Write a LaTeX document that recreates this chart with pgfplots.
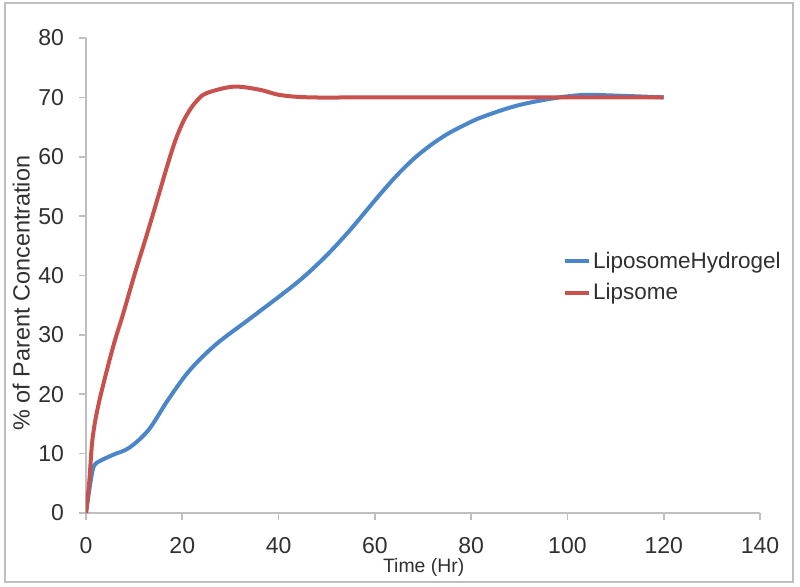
\documentclass[border=0pt]{standalone}
\usepackage{pgfplots}
\pgfplotsset{compat=1.18}
\usepackage{fontspec}
\setmainfont{Liberation Sans}
\definecolor{exblue}{HTML}{4A86C8}
\definecolor{exred}{HTML}{C8504D}
\definecolor{axgray}{HTML}{BFBFBF}
\definecolor{txt}{HTML}{303030}
\begin{document}
\begin{tikzpicture}
\path[use as bounding box] (0,0) rectangle (400pt,293pt);
\draw[axgray, line width=1.2pt] (2.5pt,2pt) rectangle (396.5pt,291.5pt);
\begin{axis}[
  at={(43.0pt,36.5pt)}, anchor=south west,
  scale only axis, width=337pt, height=237.5pt,
  xmin=0, xmax=140, ymin=0, ymax=80,
  xtick={0,20,...,140}, ytick={0,10,...,80},
  axis x line*=bottom, axis y line*=left,
  axis line style={axgray, line width=0.8pt},
  tick style={axgray, line width=0.8pt},
  tick align=outside, major tick length=3.5pt,
  /pgf/number format/assume math mode=true,
  ticklabel style={font=\fontsize{11.5}{13}\selectfont, text=txt},
  xticklabel style={yshift=-5pt},
  yticklabel style={xshift=-4pt},
  xlabel={Time (Hr)},
  ylabel={\% of Parent Concentration},
  xlabel style={at={(axis description cs:0.501,-0.114)}, anchor=center, font=\fontsize{9.7}{11}\selectfont, text=txt},
  ylabel style={at={(axis description cs:-0.096,0.463)}, anchor=center, rotate=0, font=\fontsize{11.7}{13}\selectfont, text=txt},
  legend style={at={(axis description cs:0.7074,0.555)}, anchor=north west, draw=none, fill=none,
    font=\fontsize{11.25}{13}\selectfont, text=txt, row sep=4pt, inner sep=0pt,
    nodes={inner sep=1pt}},
  legend cell align=left,
  legend image code/.code={\draw[#1, line width=2pt] (0pt,0pt) -- (12pt,0pt);},
]
\addplot[exblue, line width=2pt, smooth, tension=0.55] coordinates {
(0,0) (1,5.5) (1.7,8) (3,8.8) (5.6,9.8) (9,11) (13,14) (17,19) (21.5,24)
(27,28.4) (34,32.7) (41,37) (45,39.6) (49,42.6) (52,45.1) (55,47.8) (58,50.7)
(61,53.6) (64.5,56.8) (68,59.6) (71.5,61.9) (75,63.8) (78.5,65.3)
(82,66.6) (89,68.5) (96,69.7) (103,70.4) (110,70.3) (120,70)};
\addlegendentry{LiposomeHydrogel}
\addplot[exred, line width=2pt, smooth, tension=0.55] coordinates {
(0,0) (0.7,5.5) (1.4,12.8) (2.8,19) (5.6,27.9) (7.7,33.5) (10.1,40.2) (12.5,46.5)
(15,53.3) (17,58.8) (18.5,62.6) (20,65.6) (21.5,67.8) (23,69.4) (25,70.7) (30.6,71.8) (36,71.3)
(40.3,70.4) (46.6,70) (60,70) (90,70) (120,70)};
\addlegendentry{Lipsome}
\end{axis}
\end{tikzpicture}
\end{document}
